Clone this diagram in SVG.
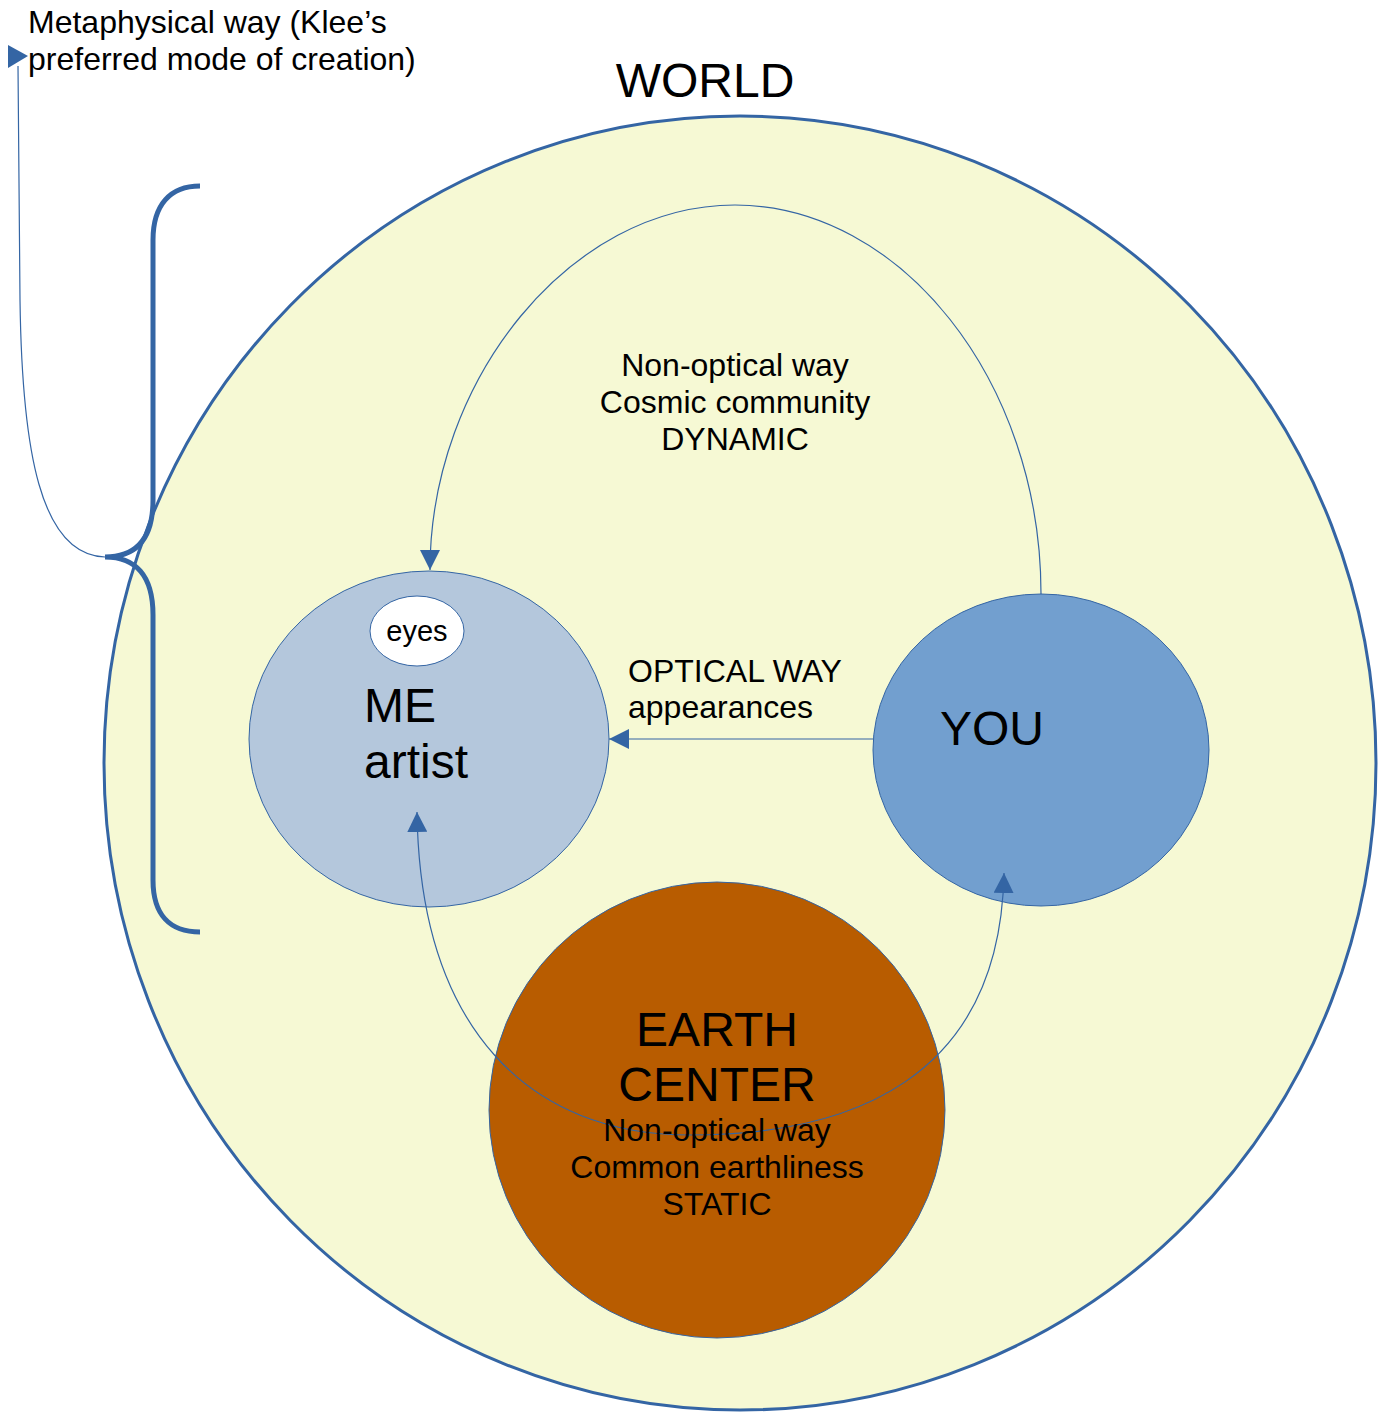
<svg xmlns="http://www.w3.org/2000/svg" width="1388" height="1412" viewBox="0 0 1388 1412">
<defs>
<marker id="ah" viewBox="0 0 20 20" refX="20" refY="10" markerWidth="20" markerHeight="20" markerUnits="userSpaceOnUse" orient="auto-start-reverse">
<path d="M0,0 L20,10 L0,20 Z" fill="#3465a4"/>
</marker>
</defs>
<style>
text{font-family:"Liberation Sans",Arial,sans-serif;fill:#000}
.s{font-size:32px}
.l{font-size:48px}
.c{text-anchor:middle}
.con{fill:none;stroke:#3465a4;stroke-width:1.2}
</style>
<rect width="1388" height="1412" fill="#fff"/>
<g id="world">
<ellipse cx="740" cy="763" rx="636" ry="647" fill="#f6f9d4" stroke="#3465a4" stroke-width="3"/>
<text x="705" y="97" class="c" font-size="48">WORLD</text>
</g>
<g id="me">
<ellipse cx="429" cy="739" rx="180" ry="168" fill="#b4c7dc" stroke="#3465a4" stroke-width="1"/>
<text x="364" y="722" class="l">ME</text>
<text x="364" y="778" class="l">artist</text>
</g>
<g id="eyes">
<ellipse cx="417" cy="631" rx="47" ry="35" fill="#fff" stroke="#3465a4" stroke-width="1"/>
<text x="417" y="641" class="c" font-size="29">eyes</text>
</g>
<g id="you">
<ellipse cx="1041" cy="750" rx="168" ry="156" fill="#729fcf" stroke="#3465a4" stroke-width="1"/>
<text x="940" y="745" class="l">YOU</text>
</g>
<g id="earth">
<ellipse cx="717" cy="1110" rx="228" ry="228" fill="#b85c00" stroke="#3465a4" stroke-width="1"/>
<text x="717" y="1046" class="l c">EARTH</text>
<text x="717" y="1101" class="l c">CENTER</text>
</g>
<g id="connectors">
<path class="con" d="M1041,594 C1041,380 900,205 735,205 C570,205 430,380 430,570" marker-end="url(#ah)"/>
<path class="con" d="M873,739 L609,739" marker-end="url(#ah)"/>
<path class="con" d="M417,812 C420,1030 530,1135 690,1135 C850,1135 1000,1080 1004,873" marker-start="url(#ah)" marker-end="url(#ah)"/>
<path d="M200,186 C170,186 153,205 153,240 L153,500 C153,540 135,557 105,557 C135,557 153,575 153,615 L153,880 C153,915 170,932 200,932" fill="none" stroke="#3465a4" stroke-width="5"/>
<path class="con" d="M105,557 C40,555 22,450 20,300 L18,66"/>
<path d="M8,45 L28,56 L8,68 Z" fill="#3465a4"/>
</g>
<g id="labels">
<text x="28" y="33" class="s">Metaphysical way (Klee’s</text>
<text x="28" y="70" class="s">preferred mode of creation)</text>
<text x="735" y="376" class="s c">Non-optical way</text>
<text x="735" y="413" class="s c">Cosmic community</text>
<text x="735" y="450" class="s c">DYNAMIC</text>
<text x="628" y="682" class="s">OPTICAL WAY</text>
<text x="628" y="718" class="s">appearances</text>
<text x="717" y="1141" class="s c">Non-optical way</text>
<text x="717" y="1178" class="s c">Common earthliness</text>
<text x="717" y="1215" class="s c">STATIC</text>
</g>
</svg>
